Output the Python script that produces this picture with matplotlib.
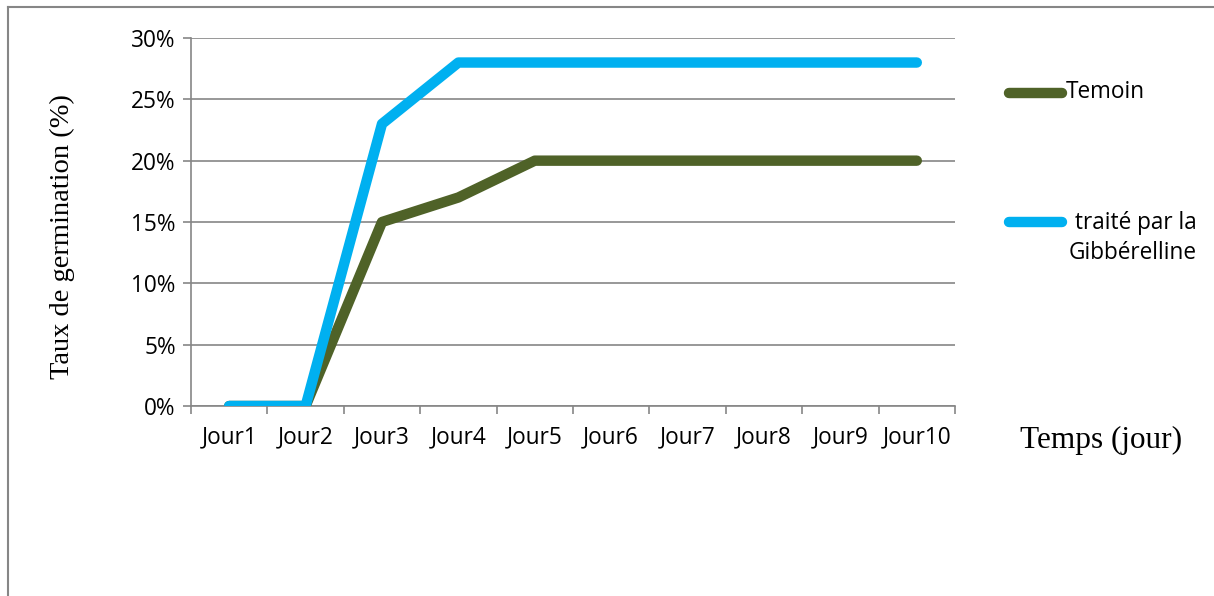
import numpy as np
import matplotlib.pyplot as plt
from matplotlib.lines import Line2D
from matplotlib.ticker import FixedLocator, PercentFormatter

jours = ['Jour1', 'Jour2', 'Jour3', 'Jour4', 'Jour5',
         'Jour6', 'Jour7', 'Jour8', 'Jour9', 'Jour10']
temoin = [0, 0, 15, 17, 20, 20, 20, 20, 20, 20]
gibberelline = [0, 0, 23, 28, 28, 28, 28, 28, 28, 28]

green = '#4F6228'
blue = '#00B0F0'
grey = '#868686'
tick_font = 'Open Sans'
serif = 'Liberation Serif'
fs = 16.3

W, H = 1214, 596
fig = plt.figure(figsize=(W / 100, H / 100), dpi=100)
ax = fig.add_axes([191 / W, 1 - 406 / H, (955 - 191) / W, (406 - 38) / H])

x = np.arange(len(jours))
ax.plot(x, temoin, color=green, linewidth=7.5, solid_capstyle='round',
        solid_joinstyle='round', zorder=3)
ax.plot(x, gibberelline, color=blue, linewidth=7.5, solid_capstyle='round',
        solid_joinstyle='round', zorder=4)

ax.set_xlim(-0.5, len(jours) - 0.5)
ax.set_ylim(0, 30)
ax.yaxis.set_major_locator(FixedLocator([0, 5, 10, 15, 20, 25, 30]))
ax.yaxis.set_major_formatter(PercentFormatter(decimals=0))
ax.grid(axis='y', color=grey, linewidth=1.2, zorder=0)

# category boundaries as ticks, labels centred between them
ax.xaxis.set_major_locator(FixedLocator(np.arange(-0.5, len(jours), 1.0)))
ax.xaxis.set_minor_locator(FixedLocator(x))
ax.set_xticklabels([], minor=False)
ax.set_xticklabels(jours, minor=True)
ax.tick_params(axis='x', which='major', direction='out', length=6,
               width=1.2, color=grey)
ax.tick_params(axis='x', which='minor', length=0, pad=14,
               labelsize=fs)
ax.tick_params(axis='y', direction='out', length=6, width=1.2, color=grey,
               labelsize=fs, pad=5)
for lab in ax.get_xticklabels(minor=True) + ax.get_yticklabels():
    lab.set_fontfamily(tick_font)

for s in ['top', 'right']:
    ax.spines[s].set_visible(False)
for s in ['left', 'bottom']:
    ax.spines[s].set_color(grey)
    ax.spines[s].set_linewidth(1.2)

fig.text(62 / W, 1 - 237 / H, 'Taux de germination (%)', rotation=90,
         ha='center', va='center', fontsize=20.5, family=serif)
fig.text(1101 / W, 1 - 440 / H, 'Temps (jour)', ha='center', va='center',
         fontsize=22.5, family=serif)

# legend drawn by hand on the right
fig.add_artist(Line2D([1009 / W, 1062 / W], [1 - 93 / H, 1 - 93 / H],
                      color=green, linewidth=7.5, solid_capstyle='round'))
fig.text(1066 / W, 1 - 92 / H, 'Temoin', ha='left', va='center',
         fontsize=fs, family=tick_font)
fig.add_artist(Line2D([1009 / W, 1062 / W], [1 - 222 / H, 1 - 222 / H],
                      color=blue, linewidth=7.5, solid_capstyle='round'))
fig.text(1133 / W, 1 - 238 / H, ' traité par la\nGibbérelline', ha='center',
         va='center', fontsize=fs, family=tick_font, linespacing=1.3)

# frame around the chart area
fig.add_artist(Line2D([8 / W, 8 / W], [0, 1 - 7 / H], color=grey, linewidth=1.5))
fig.add_artist(Line2D([8 / W, 1], [1 - 7 / H, 1 - 7 / H], color=grey, linewidth=1.5))

fig.savefig('out.png', dpi=100)
